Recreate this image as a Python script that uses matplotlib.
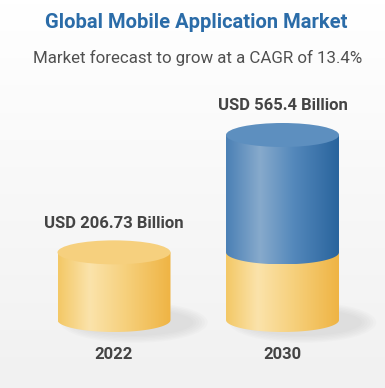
import numpy as np
import matplotlib.pyplot as plt
from matplotlib.colors import LinearSegmentedColormap
from matplotlib.patches import Ellipse, Polygon

plt.rcParams['font.family'] = ['Roboto', 'DejaVu Sans']

# data
years = ['2022', '2030']
base_value = 206.73          # 2022 market size (USD billion)
values = [206.73, 565.4]
labels = ['USD 206.73 Billion', 'USD 565.4 Billion']
title = 'Global Mobile Application Market'
subtitle = 'Market forecast to grow at a CAGR of 13.4%'

yellow = LinearSegmentedColormap.from_list(
    'yel', [(0, '#f3c866'), (0.28, '#fbe3ab'), (0.6, '#f6d07c'), (1, '#efb444')])
blue = LinearSegmentedColormap.from_list(
    'blu', [(0, '#4b80b5'), (0.3, '#87aacc'), (0.6, '#5488bb'), (1, '#29649d')])

fig = plt.figure(figsize=(3.85, 3.88), dpi=100)

# background gradient
bg = fig.add_axes([0, 0, 1, 1])
bg.imshow(np.linspace(0, 1, 100).reshape(-1, 1), aspect='auto', extent=[0, 1, 0, 1],
          cmap=LinearSegmentedColormap.from_list('bg', ['#ffffff', '#f1f1f1']))
bg.axis('off')

ax = fig.add_axes([0, 0, 1, 1])
ax.patch.set_alpha(0)
ax.axis('off')
# scale: 0 at 68px from bottom, 565.4 at 253px from bottom
upp = 565.4 / 185
ax.set_ylim(-68 * upp, (388 - 68) * upp)
ax.set_xlim(-114 / 168.5, (385 - 114) / 168.5)

w = 113 / 168.5 / 2       # half width
h = 12 * upp              # half ellipse height


def segment(x, y0, y1, cmap, z):
    t = np.linspace(np.pi, 2 * np.pi, 60)
    pts = [(x - w, y1), (x - w, y0)]
    pts += list(zip(x + w * np.cos(t), y0 + h * np.sin(t)))
    pts += [(x + w, y0), (x + w, y1)]
    poly = Polygon(pts, closed=True, facecolor='none', edgecolor='none')
    ax.add_patch(poly)
    im = ax.imshow(np.linspace(0, 1, 200).reshape(1, -1), cmap=cmap, aspect='auto',
                   extent=[x - w, x + w, y0 - h, y1], zorder=z)
    im.set_clip_path(poly)


for i, (v, lab, yr) in enumerate(zip(values, labels, years)):
    # soft shadow on the right
    for k in range(6):
        ax.add_patch(Ellipse((i + 0.12, -h * 0.2), 2 * w * (1.05 + 0.05 * k), 2 * h * (1.1 + 0.12 * k),
                             facecolor='#b0b0b0', alpha=0.05, edgecolor='none', zorder=1))
    segment(i, 0, min(v, base_value), yellow, 2)
    if v > base_value:
        segment(i, base_value, v, blue, 3)
        top_col = '#5d8fbf'
    else:
        top_col = '#f6d07e'
    ax.add_patch(Ellipse((i, v), 2 * w, 2 * h, facecolor=top_col, edgecolor='none', zorder=4))
    ax.annotate(lab, (i, v), xytext=(0, 21), textcoords='offset points', ha='center',
                va='center', fontsize=12, fontweight='bold', color='#444444')
    ax.annotate(yr, (i, 0), xytext=(0, -25), textcoords='offset points', ha='center',
                va='center', fontsize=12, fontweight='bold', color='#444444')

fig.text(0.51, 1 - 23 / 388, title, ha='center', va='center', fontsize=14.5,
         fontweight='bold', color='#2b6ca8')
fig.text(0.513, 1 - 58 / 388, subtitle, ha='center', va='center', fontsize=12.2,
         color='#505050')

fig.savefig('out.png', dpi=100)
